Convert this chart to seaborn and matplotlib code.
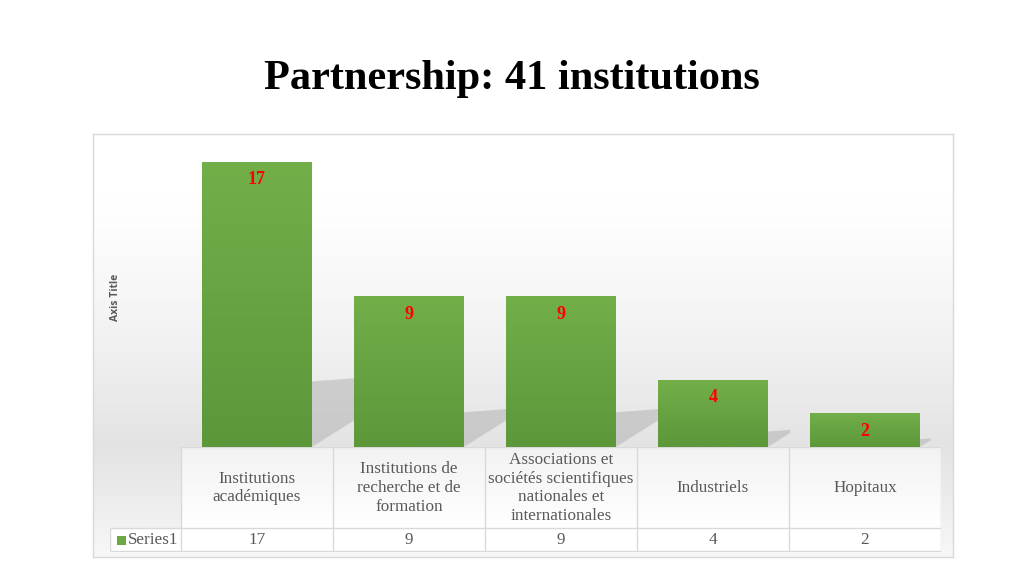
"""Partnership chart: number of partner institutions per category, with a data table."""

import matplotlib
matplotlib.use("Agg")
import matplotlib.pyplot as plt
import numpy as np
import seaborn as sns
from matplotlib.colors import to_rgb
from matplotlib.patches import Polygon, Rectangle

categories = [
    "Institutions\nacadémiques",
    "Institutions de\nrecherche et de\nformation",
    "Associations et\nsociétés scientifiques\nnationales et\ninternationales",
    "Industriels",
    "Hopitaux",
]
values = [17, 9, 9, 4, 2]
series_name = "Series1"
title = "Partnership: 41 institutions"
axis_title = "Axis Title"

W, H = 1024, 576
SERIF = "Liberation Serif"
GREEN = "#6aa944"
GRID = "#d9d9d9"
TEXT = "#595959"


def fig_rect(x0, y0, x1, y1):
    """pixel box (top-left origin) -> figure fraction rect"""
    return [x0 / W, 1 - y1 / H, (x1 - x0) / W, (y1 - y0) / H]


def grey_img(levels, cols=4):
    return np.repeat(np.repeat(np.asarray(levels)[:, None, None], 3, axis=2),
                     cols, axis=1)


sns.set_theme(style="white")
plt.rcParams["font.family"] = [SERIF, "DejaVu Serif"]

fig = plt.figure(figsize=(W / 100, H / 100), dpi=100)
fig.patch.set_facecolor("white")

# chart box background with soft gradient (white at top, grey near the floor)
bg = fig.add_axes(fig_rect(93, 134, 953, 557))
rows_top = 447 - 134
ramp = np.clip((np.arange(rows_top) - 60) / (rows_top - 60), 0, 1)
top_part = 1.0 - 0.11 * ramp ** 1.3
bot_part = np.linspace(0.89, 0.97, 557 - 447)
bg.imshow(grey_img(np.concatenate([top_part, bot_part])), aspect="auto",
          extent=[0, 1, 0, 1], interpolation="nearest")
bg.set_xticks([])
bg.set_yticks([])
for s in bg.spines.values():
    s.set_color(GRID)
    s.set_linewidth(1.0)

fig.text(512 / W, 1 - 79 / H, title, ha="center", va="center",
         fontsize=30.5, fontweight="bold", color="black")

fig.text(115 / W, 1 - 297 / H, axis_title, rotation=90, ha="center",
         va="center", fontsize=7.5, fontweight="bold", color=TEXT,
         family=["Open Sans", "DejaVu Sans"])

# bars
ax = fig.add_axes(fig_rect(181, 145, 941, 447))
ax.patch.set_alpha(0)
xpos = list(range(len(values)))
sns.barplot(x=xpos, y=values, color=GREEN, width=0.72, saturation=1,
            linewidth=0, edgecolor="none", ax=ax, zorder=3)

top_rgb = np.array(to_rgb("#72af49"))
bot_rgb = np.array(to_rgb("#5c973a"))
grad = np.linspace(0, 1, 64)[:, None, None]
grad_img = np.repeat(top_rgb * (1 - grad) + bot_rgb * grad, 2, axis=1)

for patch, v in zip(ax.patches, values):
    x0 = patch.get_x()
    x1 = x0 + patch.get_width()
    # soft cast shadow behind the bar
    t = 0.23 * v
    d = min(0.3, 0.037 * v)
    shadow = Polygon([(x1, 0), (x1, t), (x1 + d, t + 0.2 * d / 0.3),
                      (x1 + d, min(t, 1.7 * d / 0.3))],
                     closed=True, facecolor="#a8a8a8", alpha=0.45,
                     edgecolor="none", zorder=1)
    ax.add_patch(shadow)
    img = ax.imshow(grad_img, extent=[x0, x1, 0, v], aspect="auto",
                    interpolation="bilinear", zorder=4)
    img.set_clip_path(patch)
    ax.annotate(str(v), (x0 + patch.get_width() / 2, v), xytext=(0, -13),
                textcoords="offset points", ha="center", va="center",
                color="#ff0000", fontsize=13, fontweight="bold", zorder=6)

ax.set_xlim(-0.5, len(values) - 0.5)
ax.set_ylim(0, 18)
ax.set_xticks([])
ax.set_yticks([])
ax.set_xlabel("")
ax.set_ylabel("")
sns.despine(ax=ax, left=True, bottom=True)

# data table
tb = fig.add_axes(fig_rect(110, 447, 941, 552))
tb.patch.set_alpha(0)
left = -0.5 - 71 / 152
nx = len(values)
tb.set_xlim(left, nx - 0.5)
tb.set_ylim(552, 447)
tb.axis("off")

# cell fills: header cells fade from light grey to white, value row white
tb.imshow(grey_img(np.linspace(0.95, 1.0, 81)), extent=[-0.5, nx - 0.5, 528, 447],
          aspect="auto", interpolation="nearest", zorder=0)
tb.add_patch(Rectangle((left, 528), nx - 0.5 - left, 23, facecolor="white",
                       edgecolor="none", zorder=0))
tb.set_xlim(left, nx - 0.5)
tb.set_ylim(552, 447)

edges = np.arange(nx + 1) - 0.5
tb.vlines(edges, 447, 551, color=GRID, lw=1)
tb.hlines(447, edges[0], edges[-1], color=GRID, lw=1)
tb.hlines([528, 551], left, edges[-1], color=GRID, lw=1)
tb.vlines(left + 0.003, 528, 551, color=GRID, lw=1)

for i, (cat, v) in enumerate(zip(categories, values)):
    tb.text(i, 488, cat, ha="center", va="center", fontsize=12.3,
            color=TEXT, linespacing=1.24)
    tb.text(i, 540, str(v), ha="center", va="center", fontsize=12.3,
            color=TEXT)

px = 1 / 152
tb.add_patch(Rectangle((left + 7 * px, 536), 9 * px, 9, facecolor=GREEN,
                       edgecolor="none"))
tb.text(left + 18 * px, 540, series_name, ha="left", va="center",
        fontsize=12.3, color=TEXT)

fig.savefig("out.png", dpi=100)
